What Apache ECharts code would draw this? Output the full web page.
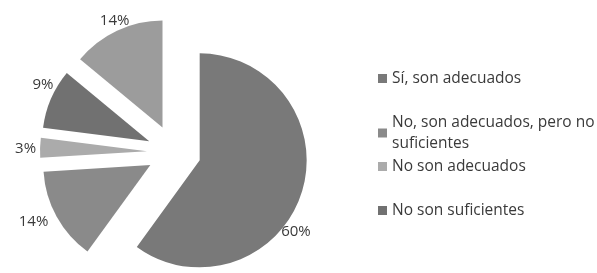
<!DOCTYPE html>
<html>
<head>
<meta charset="utf-8">
<script src="https://cdn.jsdelivr.net/npm/echarts@6/dist/echarts.min.js"></script>
<style>
  html, body { margin: 0; padding: 0; background: #fff; }
  #chart { width: 597px; height: 273px; }
</style>
</head>
<body>
<div id="chart"></div>
<script>
const names = ['Sí, son adecuados', 'No, son adecuados, pero no suficientes', 'No son adecuados', 'No son suficientes', 'Otros']
const values = [60, 14, 3, 9, 14]
const colors = ['#797979', '#8a8a8a', '#ababab', '#717171', '#9c9c9c']
const legendNames = names.slice(0, 4)

const chart = echarts.init(document.getElementById('chart'))

// layout tweaks (Excel "best fit" label placement)
const legendTops = [63, 107, 151, 195]
const labelShift = [[-31, 36], [2, 2], [7, 1], [13, -12], [20, -5]]

chart.setOption({
  animation: false,
  legend: legendNames.map((n, i) => ({
    data: [n],
    orient: 'vertical',
    left: 373,
    top: legendTops[i],
    icon: 'rect',
    itemWidth: 9,
    itemHeight: 9,
    itemGap: 5,
    selectedMode: false,
    formatter: name => name === names[1] ? 'No, son adecuados, pero no\nsuficientes' : name,
    textStyle: {
      color: '#3a3a3a',
      fontSize: 15.5,
      fontFamily: 'Open Sans',
      lineHeight: 21
    }
  })),
  series: [{
    type: 'pie',
    center: [174, 152],
    radius: 107,
    startAngle: 90,
    clockwise: true,
    selectedMode: 'multiple',
    selectedOffset: 27,
    avoidLabelOverlap: false,
    label: {
      show: true,
      position: 'outside',
      formatter: '{d}%',
      color: '#3a3a3a',
      fontSize: 15,
      fontFamily: 'Open Sans'
    },
    labelLine: { show: false, length: 6, length2: 0 },
    labelLayout: p => ({ dx: labelShift[p.dataIndex][0], dy: labelShift[p.dataIndex][1] }),
    emphasis: { disabled: true },
    data: values.map((v, i) => ({
      name: names[i],
      value: v,
      selected: true,
      itemStyle: { color: colors[i] }
    }))
  }]
})
</script>
</body>
</html>
